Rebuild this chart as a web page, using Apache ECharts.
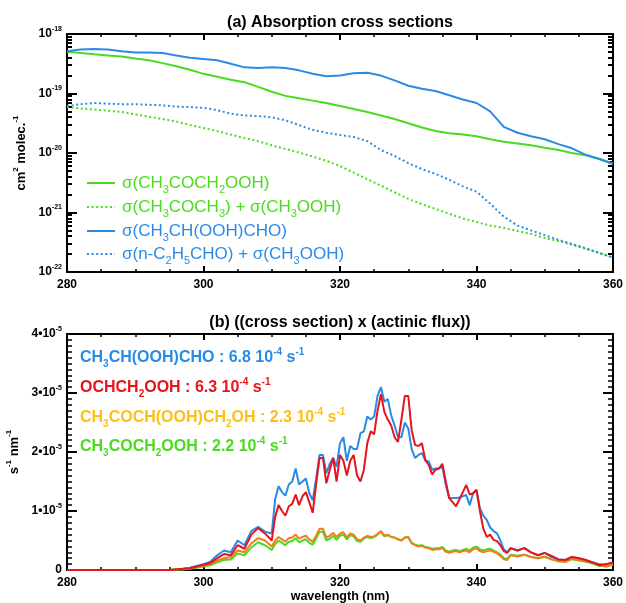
<!DOCTYPE html>
<html>
<head>
<meta charset="utf-8">
<script src="https://cdn.jsdelivr.net/npm/echarts@6/dist/echarts.min.js"></script>
<style>
  html, body { margin: 0; padding: 0; background: #fff; }
  #chart { width: 626px; height: 603px; }
</style>
</head>
<body>
<div id="chart"></div>
<script>
// ---- panel (a): absorption cross sections, cm2 molec-1 ----
const wlTop = [280, 282, 284, 286, 288, 290, 292, 294, 296, 298,
  300, 302, 304, 306, 308, 310, 312, 314, 316, 318,
  320, 322, 324, 326, 328, 330, 332, 334, 336, 338,
  340, 342, 344, 346, 348, 350, 352, 354, 356, 358, 360];

const sigHydroxyacetone = [5.01e-19, 4.79e-19, 4.57e-19, 4.37e-19, 4.17e-19, 3.89e-19, 3.63e-19, 3.24e-19, 2.88e-19, 2.51e-19,
  2.14e-19, 1.91e-19, 1.70e-19, 1.55e-19, 1.29e-19, 1.07e-19, 9.12e-20, 8.32e-20, 7.59e-20, 6.92e-20,
  6.17e-20, 5.50e-20, 4.90e-20, 4.27e-20, 3.72e-20, 3.16e-20, 2.69e-20, 2.34e-20, 2.14e-20, 2.04e-20,
  1.91e-20, 1.70e-20, 1.55e-20, 1.45e-20, 1.35e-20, 1.23e-20, 1.12e-20, 1.00e-20, 9.12e-21, 7.94e-21, 6.61e-21];

const sigAcetonePlusMHP = [5.89e-20, 5.62e-20, 5.37e-20, 5.13e-20, 4.90e-20, 4.47e-20, 4.07e-20, 3.72e-20, 3.39e-20, 2.95e-20,
  2.63e-20, 2.34e-20, 2.04e-20, 1.78e-20, 1.58e-20, 1.35e-20, 1.17e-20, 1.02e-20, 8.71e-21, 7.41e-21,
  6.03e-21, 4.68e-21, 3.63e-21, 2.82e-21, 2.19e-21, 1.70e-21, 1.38e-21, 1.15e-21, 9.55e-22, 7.94e-22,
  6.92e-22, 6.03e-22, 5.50e-22, 4.90e-22, 4.37e-22, 3.72e-22, 3.31e-22, 2.88e-22, 2.45e-22, 2.09e-22, 1.74e-22];

const sigHpald = [5.13e-19, 5.50e-19, 5.62e-19, 5.50e-19, 5.13e-19, 4.90e-19, 4.90e-19, 4.79e-19, 4.37e-19, 3.98e-19,
  3.80e-19, 3.63e-19, 3.16e-19, 2.75e-19, 2.69e-19, 2.75e-19, 2.69e-19, 2.45e-19, 2.14e-19, 1.95e-19,
  2.00e-19, 2.19e-19, 2.24e-19, 2.00e-19, 1.66e-19, 1.35e-19, 1.20e-19, 1.10e-19, 9.33e-20, 7.94e-20,
  6.92e-20, 5.01e-20, 2.75e-20, 2.19e-20, 1.91e-20, 1.70e-20, 1.41e-20, 1.20e-20, 9.33e-21, 7.94e-21, 6.61e-21];

const sigPropanalPlusMHP = [6.17e-20, 6.61e-20, 6.92e-20, 6.76e-20, 6.61e-20, 6.61e-20, 6.46e-20, 6.31e-20, 6.03e-20, 5.89e-20,
  5.75e-20, 5.25e-20, 4.57e-20, 4.27e-20, 4.17e-20, 3.98e-20, 3.55e-20, 2.95e-20, 2.45e-20, 2.19e-20,
  2.00e-20, 1.86e-20, 1.58e-20, 1.12e-20, 8.91e-21, 6.76e-21, 5.37e-21, 4.47e-21, 3.55e-21, 2.75e-21,
  2.24e-21, 1.41e-21, 8.51e-22, 6.03e-22, 5.01e-22, 4.17e-22, 3.47e-22, 2.95e-22, 2.51e-22, 2.09e-22, 1.74e-22];

const decadeTicks = [1e-22, 1e-21, 1e-20, 1e-19, 1e-18];

// ---- panel (b): cross section x actinic flux, in 1e-5 s-1 nm-1 ----
// 1 nm steps below 310 and above 345, 0.5 nm steps in between
const wlBot = [280, 281, 282, 283, 284, 285, 286, 287, 288, 289,
  290, 291, 292, 293, 294, 295, 296, 297, 298, 299,
  300, 301, 302, 303, 304, 305, 306, 307, 308, 309,
  310, 310.5, 311, 311.5, 312, 312.5, 313, 313.5, 314, 314.5,
  315, 315.5, 316, 316.5, 317, 317.5, 318, 318.5, 319, 319.5,
  320, 320.5, 321, 321.5, 322, 322.5, 323, 323.5, 324, 324.5,
  325, 325.5, 326, 326.5, 327, 327.5, 328, 328.5, 329, 329.5,
  330, 330.5, 331, 331.5, 332, 332.5, 333, 333.5, 334, 334.5,
  335, 335.5, 336, 336.5, 337, 337.5, 338, 338.5, 339, 339.5,
  340, 340.5, 341, 341.5, 342, 342.5, 343, 343.5, 344, 344.5,
  345, 346, 347, 348, 349, 350, 351, 352, 353, 354,
  355, 356, 357, 358, 359, 360];

const jHpald = [0, 0, 0, 0, 0, 0, 0, 0, 0, 0, 0, 0, 0, 0, 0, 0,
  0.01, 0.02, 0.04, 0.07, 0.10, 0.14, 0.25, 0.33, 0.30, 0.50, 0.42, 0.66, 0.73, 0.65,
  0.62, 1.20, 1.42, 1.32, 1.26, 1.45, 1.50, 1.72, 1.45, 1.50,
  1.55, 1.30, 1.18, 1.55, 1.95, 1.95, 1.64, 1.80, 1.90, 1.75,
  2.15, 2.25, 1.85, 2.10, 2.05, 2.05, 2.32, 2.35, 2.60, 2.55,
  2.60, 2.95, 3.10, 2.85, 2.90, 2.62, 2.45, 2.25, 2.25, 2.50,
  2.40, 2.05, 1.90, 1.95, 1.98, 1.86, 1.84, 1.70, 1.72, 1.72,
  1.75, 1.44, 1.22, 1.22, 1.22, 1.23, 1.25, 1.27, 1.10, 1.30,
  1.35, 1.05, 0.92, 0.85, 0.72, 0.66, 0.62, 0.50, 0.35, 0.30,
  0.37, 0.33, 0.37, 0.30, 0.25, 0.29, 0.22, 0.18, 0.17, 0.22,
  0.20, 0.17, 0.13, 0.10, 0.08, 0.13];

const jGlycolHP = [0, 0, 0, 0, 0, 0, 0, 0, 0, 0, 0, 0, 0, 0, 0, 0,
  0.01, 0.02, 0.03, 0.06, 0.09, 0.12, 0.20, 0.27, 0.25, 0.42, 0.36, 0.60, 0.71, 0.62,
  0.50, 0.90, 1.10, 1.00, 0.92, 1.08, 1.12, 1.28, 1.10, 1.25,
  1.32, 1.15, 0.97, 1.45, 1.90, 1.90, 1.47, 1.70, 1.90, 1.50,
  1.95, 1.85, 1.60, 1.85, 1.95, 1.60, 1.50, 1.70, 2.15, 2.35,
  2.30, 2.70, 2.98, 2.68, 2.55, 2.45, 2.25, 2.17, 2.55, 2.95,
  2.95, 2.37, 2.12, 2.10, 2.15, 1.86, 1.78, 1.62, 1.70, 1.72,
  1.80, 1.50, 1.22, 1.15, 1.08, 1.20, 1.32, 1.44, 1.28, 1.30,
  1.36, 1.00, 0.70, 0.56, 0.60, 0.51, 0.49, 0.42, 0.32, 0.29,
  0.37, 0.33, 0.37, 0.30, 0.25, 0.29, 0.24, 0.18, 0.17, 0.22,
  0.20, 0.17, 0.13, 0.08, 0.10, 0.13];

const jDihydroxyHP = [0, 0, 0, 0, 0, 0, 0, 0, 0, 0, 0, 0, 0, 0, 0, 0,
  0.01, 0.015, 0.03, 0.05, 0.07, 0.10, 0.16, 0.20, 0.22, 0.33, 0.30, 0.45, 0.54, 0.50,
  0.40, 0.50, 0.56, 0.52, 0.48, 0.54, 0.55, 0.60, 0.53, 0.56,
  0.58, 0.52, 0.48, 0.58, 0.70, 0.70, 0.55, 0.58, 0.63, 0.56,
  0.62, 0.64, 0.55, 0.62, 0.60, 0.52, 0.50, 0.55, 0.58, 0.56,
  0.57, 0.61, 0.66, 0.58, 0.60, 0.56, 0.55, 0.52, 0.50, 0.55,
  0.56, 0.45, 0.42, 0.40, 0.41, 0.38, 0.37, 0.34, 0.35, 0.35,
  0.37, 0.31, 0.29, 0.31, 0.32, 0.30, 0.32, 0.33, 0.30, 0.35,
  0.37, 0.32, 0.30, 0.32, 0.33, 0.31, 0.28, 0.24, 0.18, 0.17,
  0.25, 0.23, 0.26, 0.22, 0.20, 0.23, 0.18, 0.15, 0.14, 0.19,
  0.17, 0.15, 0.12, 0.08, 0.06, 0.10];

const jHydroxyacetone = [0, 0, 0, 0, 0, 0, 0, 0, 0, 0, 0, 0, 0, 0, 0, 0,
  0.01, 0.01, 0.02, 0.04, 0.06, 0.08, 0.13, 0.17, 0.18, 0.28, 0.25, 0.38, 0.47, 0.42,
  0.34, 0.44, 0.50, 0.46, 0.42, 0.48, 0.49, 0.54, 0.47, 0.50,
  0.52, 0.46, 0.43, 0.53, 0.65, 0.65, 0.50, 0.53, 0.58, 0.51,
  0.58, 0.60, 0.52, 0.59, 0.57, 0.49, 0.48, 0.53, 0.56, 0.54,
  0.56, 0.60, 0.65, 0.57, 0.59, 0.56, 0.55, 0.52, 0.50, 0.55,
  0.56, 0.46, 0.43, 0.41, 0.42, 0.39, 0.38, 0.36, 0.37, 0.37,
  0.39, 0.33, 0.31, 0.33, 0.34, 0.32, 0.34, 0.36, 0.33, 0.38,
  0.40, 0.35, 0.33, 0.35, 0.36, 0.33, 0.30, 0.26, 0.20, 0.19,
  0.26, 0.24, 0.26, 0.22, 0.20, 0.22, 0.18, 0.15, 0.14, 0.18,
  0.16, 0.14, 0.11, 0.07, 0.06, 0.09];

const FONT = "'Liberation Sans', Arial, Helvetica, sans-serif";
const GREEN = "#4ada1e";
const BLUE = "#2a8be6";
const RED = "#e6141c";
const ORANGE = "#f27d1e";
const GOLD = "#fbbf17";

// rich text styles: n = normal, s = subscript, p = superscript
function richSet(size, weight) {
  return {
    n: { fontSize: size, fontWeight: weight, fontFamily: FONT, lineHeight: Math.round(size * 1.4) },
    s: { fontSize: Math.round(size * 0.65), fontWeight: weight, fontFamily: FONT,
         lineHeight: Math.round(size * 0.65), verticalAlign: "bottom" },
    p: { fontSize: Math.round(size * 0.6), fontWeight: weight, fontFamily: FONT,
         lineHeight: Math.round(size * 0.6), verticalAlign: "top" }
  };
}

// "CH_{3}" -> subscript, "10^{-4}" -> superscript
function markup(str) {
  return str.split(/(_\{[^}]*\}|\^\{[^}]*\})/).filter(Boolean).map((part) => {
    if (part.startsWith("_{")) return "{s|" + part.slice(2, -1) + "}";
    if (part.startsWith("^{")) return "{p|" + part.slice(2, -1) + "}";
    return "{n|" + part + "}";
  }).join("");
}

function pairs(xs, ys) {
  return xs.map((x, i) => [x, ys[i]]);
}

const minorLogTicks = [];
decadeTicks.slice(0, -1).forEach((d) => {
  for (let m = 2; m <= 9; m++) minorLogTicks.push(m * d);
});

const frameLine = { show: true, onZero: false, lineStyle: { color: "#000", width: 2 } };
const tickStyle = { color: "#000", width: 2 };
const labelRich = richSet(12, "bold");

function xAxisPair(gridIndex, name) {
  const base = {
    type: "value", gridIndex, min: 280, max: 360, interval: 20,
    axisLine: frameLine, splitLine: { show: false },
    axisTick: { inside: true, length: 6, lineStyle: tickStyle },
    minorTick: { show: true, splitNumber: 4, length: 3, lineStyle: { color: "#000", width: 1.5 } }
  };
  return [
    {
      ...base, position: "bottom",
      axisLabel: { margin: 7, showMinLabel: true, showMaxLabel: true, color: "#000",
        fontSize: 12, fontWeight: "bold", fontFamily: FONT },
      name: name, nameLocation: "middle", nameGap: 20,
      nameTextStyle: { color: "#000", fontSize: 12.5, fontWeight: "bold", fontFamily: FONT }
    },
    { ...base, position: "top", axisLabel: { show: false } }
  ];
}

function logAxis(position, ticks, length, withLabel, withLine) {
  return {
    type: "log", gridIndex: 0, position, min: 1e-22, max: 1e-18,
    axisLine: withLine ? frameLine : { show: false },
    splitLine: { show: false }, minorTick: { show: false },
    axisTick: { inside: true, length, customValues: ticks, lineStyle: tickStyle },
    axisLabel: withLabel ? {
      customValues: decadeTicks, margin: 5, color: "#000", rich: labelRich,
      formatter: (v) => "{n|10}{p|" + Math.round(Math.log10(v)) + "}"
    } : { show: false },
    name: withLabel ? markup("cm^{2} molec.^{-1}") : "",
    nameLocation: "middle", nameGap: 33, nameRotate: 90,
    nameTextStyle: { color: "#000", rich: richSet(13, "bold") }
  };
}

function linAxis(position, withLabel) {
  return {
    type: "value", gridIndex: 1, position, min: 0, max: 4, interval: 1,
    axisLine: frameLine, splitLine: { show: false },
    axisTick: { inside: true, length: 10, lineStyle: tickStyle },
    minorTick: { show: true, splitNumber: 10, length: 5, lineStyle: { color: "#000", width: 1.5 } },
    axisLabel: withLabel ? {
      margin: 5, color: "#000", rich: labelRich, showMinLabel: true, showMaxLabel: true,
      formatter: (v) => (v === 0 ? "{n|0}" : "{n|" + v + "•10}{p|-5}")
    } : { show: false },
    name: withLabel ? markup("s^{-1} nm^{-1}") : "",
    nameLocation: "middle", nameGap: 44, nameRotate: 90,
    nameTextStyle: { color: "#000", rich: richSet(13, "bold") }
  };
}

function lineSeries(xi, yi, xs, ys, color, dotted) {
  return {
    type: "line", xAxisIndex: xi, yAxisIndex: yi, data: pairs(xs, ys),
    showSymbol: false, symbol: "none", animation: false,
    lineStyle: { color, width: 2, type: dotted ? [2, 2.6] : "solid" }
  };
}

function label(x, y, text, color, size, weight, align) {
  return {
    type: "text", x, y, z: 100,
    style: { text: markup(text), fill: color, rich: richSet(size, weight),
      align: align || "left", verticalAlign: "middle" }
  };
}

function legendLine(y, color, dotted) {
  return {
    type: "line", z: 100,
    shape: { x1: 87, y1: y, x2: 115, y2: y },
    style: { stroke: color, lineWidth: 2, lineDash: dotted ? [2, 2.6] : null }
  };
}

const chart = echarts.init(document.getElementById("chart"), null, { renderer: "canvas" });

chart.setOption({
  backgroundColor: "#fff",
  animation: false,
  grid: [
    { left: 67, top: 34, width: 546, height: 238, outerBoundsMode: "none", containLabel: false },
    { left: 67, top: 334, width: 546, height: 236, outerBoundsMode: "none", containLabel: false }
  ],
  xAxis: [...xAxisPair(0, ""), ...xAxisPair(1, "wavelength (nm)")],
  yAxis: [
    logAxis("left", decadeTicks, 10, true, true),
    logAxis("left", minorLogTicks, 5, false, false),
    logAxis("right", decadeTicks, 10, false, true),
    logAxis("right", minorLogTicks, 5, false, false),
    linAxis("left", true),
    linAxis("right", false)
  ],
  series: [
    lineSeries(0, 0, wlTop, sigHydroxyacetone, GREEN, false),
    lineSeries(0, 0, wlTop, sigAcetonePlusMHP, GREEN, true),
    lineSeries(0, 0, wlTop, sigHpald, BLUE, false),
    lineSeries(0, 0, wlTop, sigPropanalPlusMHP, BLUE, true),
    lineSeries(2, 4, wlBot, jHpald, BLUE, false),
    lineSeries(2, 4, wlBot, jHydroxyacetone, GREEN, false),
    lineSeries(2, 4, wlBot, jDihydroxyHP, ORANGE, false),
    lineSeries(2, 4, wlBot, jGlycolHP, RED, false)
  ],
  graphic: [
    label(340, 23, "(a) Absorption cross sections", "#000", 16, "bold", "center"),
    label(340, 323, "(b) ((cross section) x (actinic flux))", "#000", 16, "bold", "center"),

    legendLine(183, GREEN, false),
    legendLine(207, GREEN, true),
    legendLine(231, BLUE, false),
    legendLine(254, BLUE, true),
    label(122, 183, "σ(CH_{3}COCH_{2}OOH)", GREEN, 17, "normal"),
    label(122, 207, "σ(CH_{3}COCH_{3}) + σ(CH_{3}OOH)", GREEN, 17, "normal"),
    label(122, 231, "σ(CH_{3}CH(OOH)CHO)", BLUE, 17, "normal"),
    label(122, 254, "σ(n-C_{2}H_{5}CHO) + σ(CH_{3}OOH)", BLUE, 17, "normal"),

    label(80, 358, "CH_{3}CH(OOH)CHO : 6.8 10^{-4} s^{-1}", BLUE, 16, "bold"),
    label(80, 388, "OCHCH_{2}OOH : 6.3 10^{-4} s^{-1}", RED, 16, "bold"),
    label(80, 418, "CH_{3}COCH(OOH)CH_{2}OH : 2.3 10^{-4} s^{-1}", GOLD, 16, "bold"),
    label(80, 447, "CH_{3}COCH_{2}OOH : 2.2 10^{-4} s^{-1}", GREEN, 16, "bold")
  ]
});
</script>
</body>
</html>
